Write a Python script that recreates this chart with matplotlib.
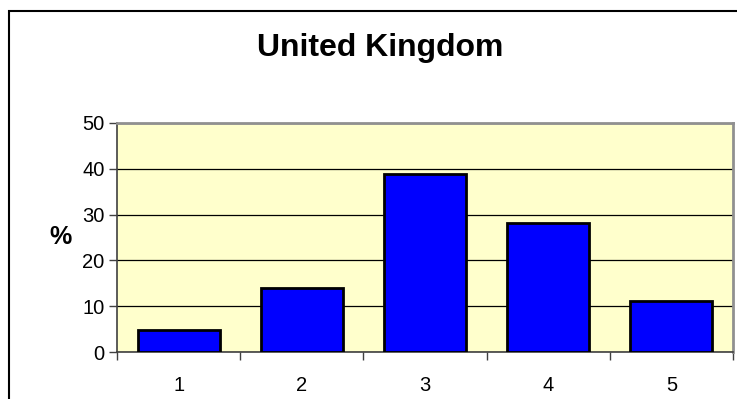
import numpy as np
import matplotlib
matplotlib.use('Agg')
import matplotlib.pyplot as plt
from matplotlib.patches import Rectangle

categories = ['1', '2', '3', '4', '5']
values = [4.8, 13.9, 38.9, 28.1, 11.1]
yticks = [0, 10, 20, 30, 40, 50]

plt.rcParams['font.family'] = ['Liberation Sans', 'DejaVu Sans']

W, H = 737, 399
fig = plt.figure(figsize=(W / 100, H / 100), dpi=100)

# outer chart border (left + top, runs off the image at right/bottom)
fig.patches.append(Rectangle((8.5 / W, -0.1), 1.2, (H - 11.5) / H + 0.1,
                             transform=fig.transFigure, fill=False,
                             edgecolor='black', linewidth=1.5, zorder=0))

ax = fig.add_axes([117 / W, (H - 352) / H, 616 / W, 229 / H])
ax.set_facecolor('#FFFFCC')

x = np.arange(1, len(categories) + 1)
ax.bar(x, values, width=0.667, color='#0000FF', edgecolor='black',
       linewidth=2, zorder=3)

ax.set_xlim(0.5, len(categories) + 0.5)
ax.set_ylim(0, 50)
ax.set_yticks(yticks)
ax.set_xticks(np.arange(0.5, len(categories) + 1, 1))
ax.set_xticklabels([])
ax.set_xticks(x, minor=True)
ax.set_xticklabels(categories, minor=True)
ax.tick_params(axis='x', which='minor', length=0, pad=17, labelsize=14.5)
ax.tick_params(axis='x', which='major', length=6, width=1, direction='out', color='#404040')
ax.tick_params(axis='y', length=6, width=1, direction='out', labelsize=14.5, pad=3, color='#404040')

ax.yaxis.grid(True, color='black', linewidth=0.9, zorder=1)
ax.set_axisbelow(True)

for s in ['top', 'right']:
    ax.spines[s].set_color('#909090')
    ax.spines[s].set_linewidth(2)
ax.spines['left'].set_color('#404040')
ax.spines['bottom'].set_color('#404040')
ax.spines['left'].set_linewidth(1.2)
ax.spines['bottom'].set_linewidth(1.2)

fig.text(60 / W, 1 - 237 / H, '%', ha='center', va='center',
         fontsize=18, fontweight='bold')
fig.text(380 / W, 1 - 48 / H, 'United Kingdom', ha='center', va='center',
         fontsize=23, fontweight='bold')

fig.savefig('out.png', dpi=100)
